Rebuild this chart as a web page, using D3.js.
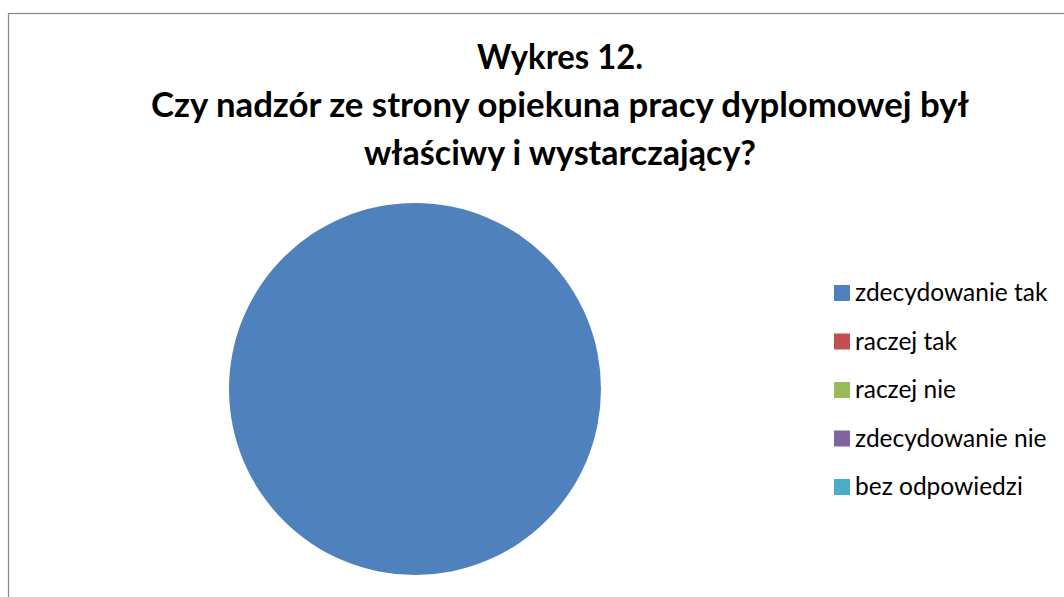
<!DOCTYPE html>
<html><head><meta charset="utf-8">
<script src="https://cdn.jsdelivr.net/npm/d3@7"></script>
<style>html,body{margin:0;padding:0;background:#fff;overflow:hidden}</style>
</head><body>
<svg id="c" width="1064" height="597"></svg>
<script>
const categories = ["zdecydowanie tak","raczej tak","raczej nie","zdecydowanie nie","bez odpowiedzi"];
const values = [100, 0, 0, 0, 0];
const colors = ["#4F81BD","#C0504D","#9BBB59","#8064A2","#4BACC6"];
const titleLines = ["Wykres 12.","Czy nadzór ze strony opiekuna pracy dyplomowej był","właściwy i wystarczający?"];
const titleWidths = [166, 818, 392];

const svg = d3.select("#c");
svg.append("rect").attr("x",8.5).attr("y",13.5).attr("width",1100).attr("height",700)
  .attr("fill","#fff").attr("stroke","#868686").attr("stroke-width",1.2);

const font = "Lato, 'Open Sans', sans-serif";
const title = svg.append("g");
titleLines.forEach((t,i)=>{
  title.append("text").attr("x",560).attr("y",69+i*48).attr("text-anchor","middle")
    .attr("font-family",font).attr("font-weight","bold").attr("font-size",34).attr("fill","#000")
    .attr("textLength",titleWidths[i]).attr("lengthAdjust","spacingAndGlyphs").text(t);
});

const pie = d3.pie().sort(null).value(d=>d.v);
const data = pie(categories.map((c,i)=>({c,v:values[i],col:colors[i]})));
const arc = d3.arc().innerRadius(0).outerRadius(186);
svg.append("g").attr("transform","translate(415,389)")
  .selectAll("path").data(data).join("path").attr("d",arc).attr("fill",d=>d.data.col);

const leg = svg.append("g");
const ly = d3.scalePoint().domain(categories).range([293,487]);
categories.forEach((c,i)=>{
  leg.append("rect").attr("x",834).attr("y",ly(c)-8).attr("width",16).attr("height",16).attr("fill",colors[i]);
  leg.append("text").attr("x",855).attr("y",ly(c)+8).attr("font-family",font).attr("font-size",24.5).attr("fill","#000").text(c);
});
</script>
</body></html>
